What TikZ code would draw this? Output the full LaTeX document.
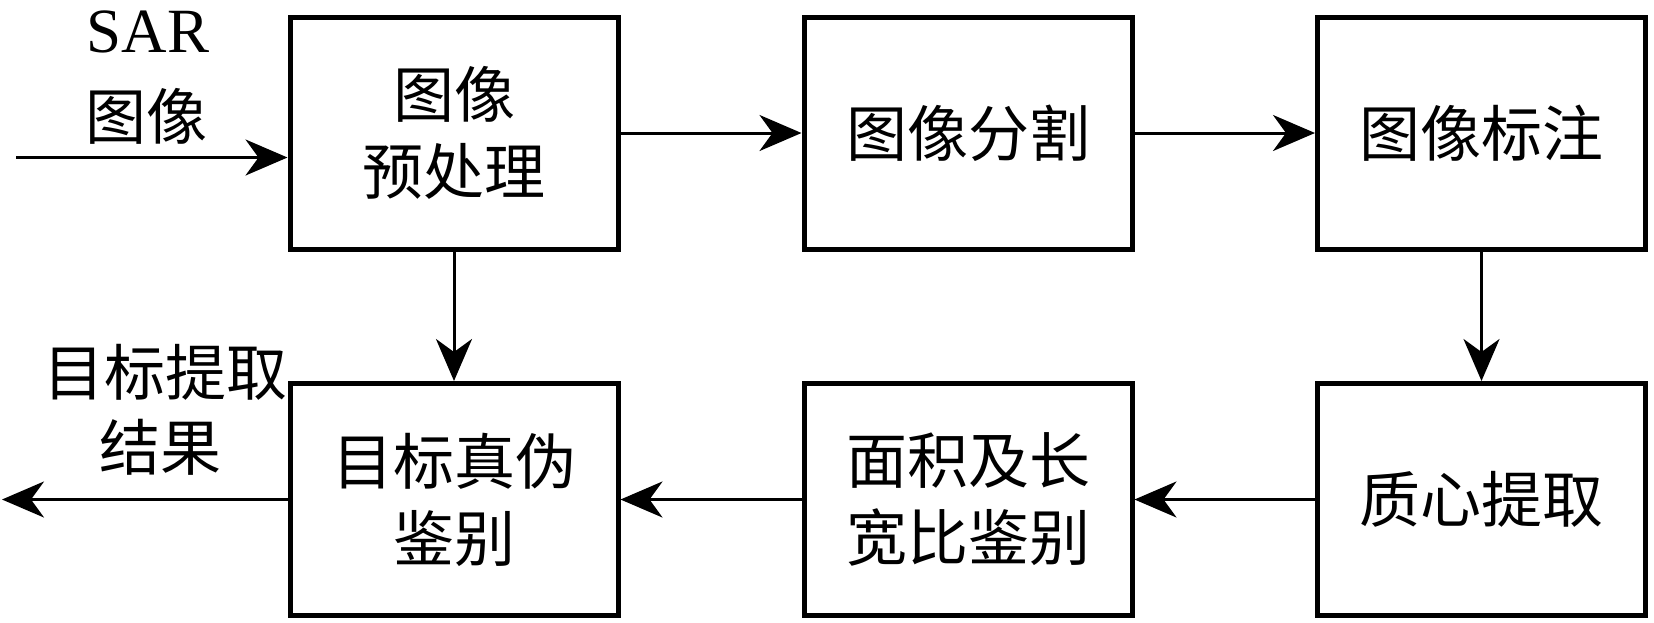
\documentclass[tikz,border=0pt]{standalone}
\usepackage{fontspec}
\setmainfont{Liberation Serif}
\newfontfamily\cjk{Noto Sans CJK SC}
\usetikzlibrary{arrows.meta}
\begin{document}
\begin{tikzpicture}[x=1pt,y=-1pt,
  box/.style={draw, line width=5pt, minimum width=328pt, minimum height=232pt, inner sep=0pt, align=center, font=\cjk\fontsize{61}{77}\selectfont},
  conn/.style={line width=3pt, -{Stealth[length=42pt,width=36pt,inset=13pt]}},
  lbl/.style={inner sep=0pt, font=\cjk\fontsize{61}{77}\selectfont},
  sarlbl/.style={inner sep=0pt, font=\fontsize{63}{70}\selectfont}]
\useasboundingbox (0,0) rectangle (1654,622);
\node[box] (b1) at (454,133) {图像\\预处理};
\node[box] (b2) at (968,133) {图像分割};
\node[box] (b3) at (1481.5,133) {图像标注};
\node[box] (b4) at (454,499.5) {目标真伪\\鉴别};
\node[box] (b5) at (968,499.5) {面积及长\\宽比鉴别};
\node[box] (b6) at (1481.5,499.5) {质心提取};
\node[sarlbl, anchor=base] (sar) at (148,52) {SAR};
\node[lbl] (img) at (146,116) {图像};
\node[lbl] (res1) at (165,372) {目标提取};
\node[lbl] (res2) at (160,447.5) {结果};
\coordinate (in) at (16,157.5);
\coordinate (out) at (2,499.5);
\draw[conn] (in) -- (in -| b1.west);
\draw[conn] (b1) -- (b2);
\draw[conn] (b2) -- (b3);
\draw[conn] (b3) -- (b6);
\draw[conn] (b6) -- (b5);
\draw[conn] (b5) -- (b4);
\draw[conn] (b1) -- (b4);
\draw[conn] (b4.west) -- (out);
\end{tikzpicture}
\end{document}
